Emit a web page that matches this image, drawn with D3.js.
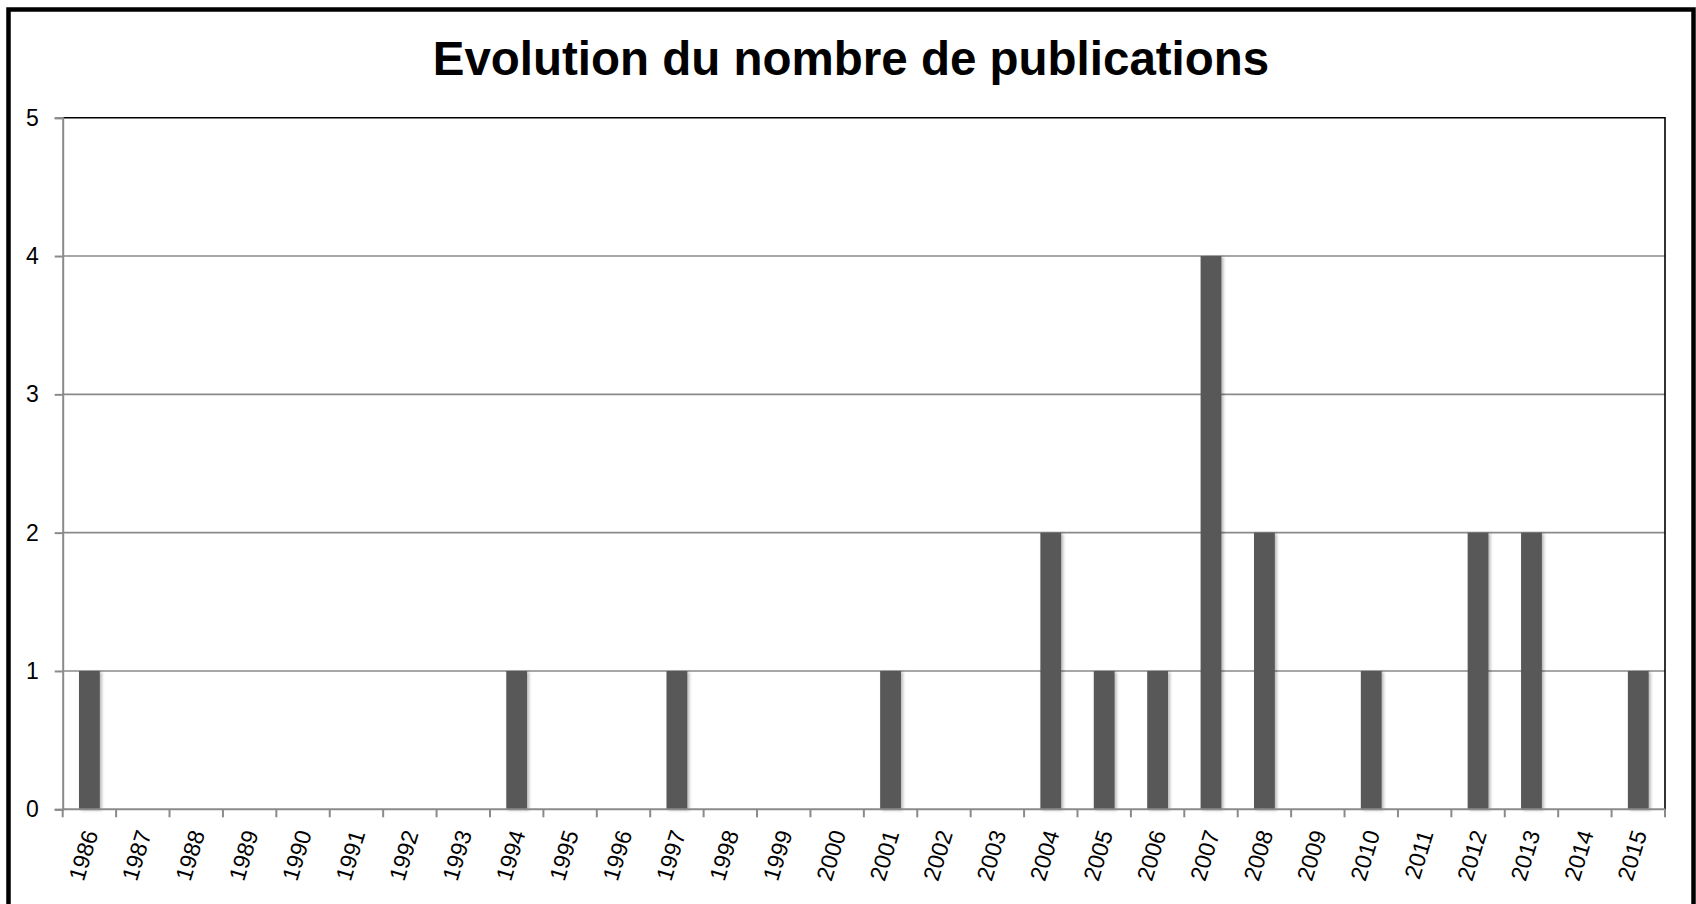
<!DOCTYPE html>
<html>
<head>
<meta charset="utf-8">
<script src="https://cdn.jsdelivr.net/npm/d3@7"></script>
<style>
  html, body { margin: 0; padding: 0; background: #fff; }
  svg { display: block; }
  text { font-family: "Liberation Sans", Arial, sans-serif; }
</style>
</head>
<body>
<svg id="chart" width="1696" height="904"></svg>
<script>
const titleText = "Evolution du nombre de publications";
const years = ["1986","1987","1988","1989","1990","1991","1992","1993","1994","1995",
               "1996","1997","1998","1999","2000","2001","2002","2003","2004","2005",
               "2006","2007","2008","2009","2010","2011","2012","2013","2014","2015"];
const counts = [1,0,0,0,0,0,0,0,1,0,
                0,1,0,0,0,1,0,0,2,1,
                1,4,2,0,1,0,2,2,0,1];
const yTicks = [0,1,2,3,4,5];

const svg = d3.select("#chart");
const plot = { left: 62.7, right: 1665, top: 117.7, bottom: 809.3 };

const defs = svg.append("defs");
const f = defs.append("filter").attr("id", "shadow")
  .attr("x", "-30%").attr("y", "-10%").attr("width", "160%").attr("height", "120%");
f.append("feDropShadow").attr("dx", 2).attr("dy", 1).attr("stdDeviation", 1.8)
  .attr("flood-color", "#000").attr("flood-opacity", 0.28);

// outer border
svg.append("rect")
  .attr("x", 8.5).attr("y", 9.5).attr("width", 1685).attr("height", 1000)
  .attr("fill", "#fff").attr("stroke", "#000").attr("stroke-width", 4.5);

// title
svg.append("text")
  .attr("x", 851).attr("y", 75)
  .attr("text-anchor", "middle")
  .attr("font-size", 47.5).attr("font-weight", "bold").attr("fill", "#000")
  .text(titleText);

const x = d3.scaleBand().domain(years).range([plot.left, plot.right])
  .paddingInner(0.61).paddingOuter(0.305);
const y = d3.scaleLinear().domain([0, 5]).range([plot.bottom, plot.top]);

// gridlines
svg.append("g").selectAll("line").data(yTicks.filter(d => d > 0 && d < 5)).join("line")
  .attr("x1", plot.left).attr("x2", plot.right)
  .attr("y1", d => y(d)).attr("y2", d => y(d))
  .attr("stroke", "#8a8a8a").attr("stroke-width", 1.6);

// plot top & right border
svg.append("path")
  .attr("d", `M${plot.left},${plot.top}H${plot.right}V${plot.bottom}`)
  .attr("fill", "none").attr("stroke", "#000").attr("stroke-width", 1.6);

// bars
svg.append("g").selectAll("rect").data(years.map((yr, i) => ({ yr, v: counts[i] })).filter(d => d.v > 0))
  .join("rect")
  .attr("x", d => x(d.yr)).attr("width", x.bandwidth())
  .attr("y", d => y(d.v)).attr("height", d => y(0) - y(d.v))
  .attr("fill", "#595959").attr("filter", "url(#shadow)");

// y axis
const yAxis = d3.axisLeft(y).tickValues(yTicks).tickSize(8).tickPadding(16).tickFormat(d3.format("d"));
const gy = svg.append("g").attr("transform", `translate(${plot.left},0)`).call(yAxis);
gy.select(".domain").attr("stroke", "#8a8a8a").attr("stroke-width", 2);
gy.selectAll(".tick line").attr("stroke", "#8a8a8a").attr("stroke-width", 2);
gy.selectAll(".tick text").attr("font-size", 23).attr("fill", "#000")
  .attr("font-family", "Liberation Sans, Arial, sans-serif");

// x axis
const step = x.step();
const xAxisG = svg.append("g").attr("transform", `translate(0,${plot.bottom})`);
xAxisG.append("line").attr("x1", plot.left).attr("x2", plot.right)
  .attr("stroke", "#8a8a8a").attr("stroke-width", 2);
const tickPos = d3.range(years.length + 1).map(i => plot.left + i * step);
xAxisG.selectAll("line.tk").data(tickPos).join("line").attr("class", "tk")
  .attr("x1", d => d).attr("x2", d => d).attr("y1", 0).attr("y2", 8)
  .attr("stroke", "#8a8a8a").attr("stroke-width", 2);
xAxisG.selectAll("text").data(years).join("text")
  .attr("transform", d => `translate(${x(d) + x.bandwidth() / 2 + 9},${24}) rotate(-73)`)
  .attr("text-anchor", "end")
  .attr("font-size", 23).attr("fill", "#000")
  .text(d => d);
</script>
</body>
</html>
